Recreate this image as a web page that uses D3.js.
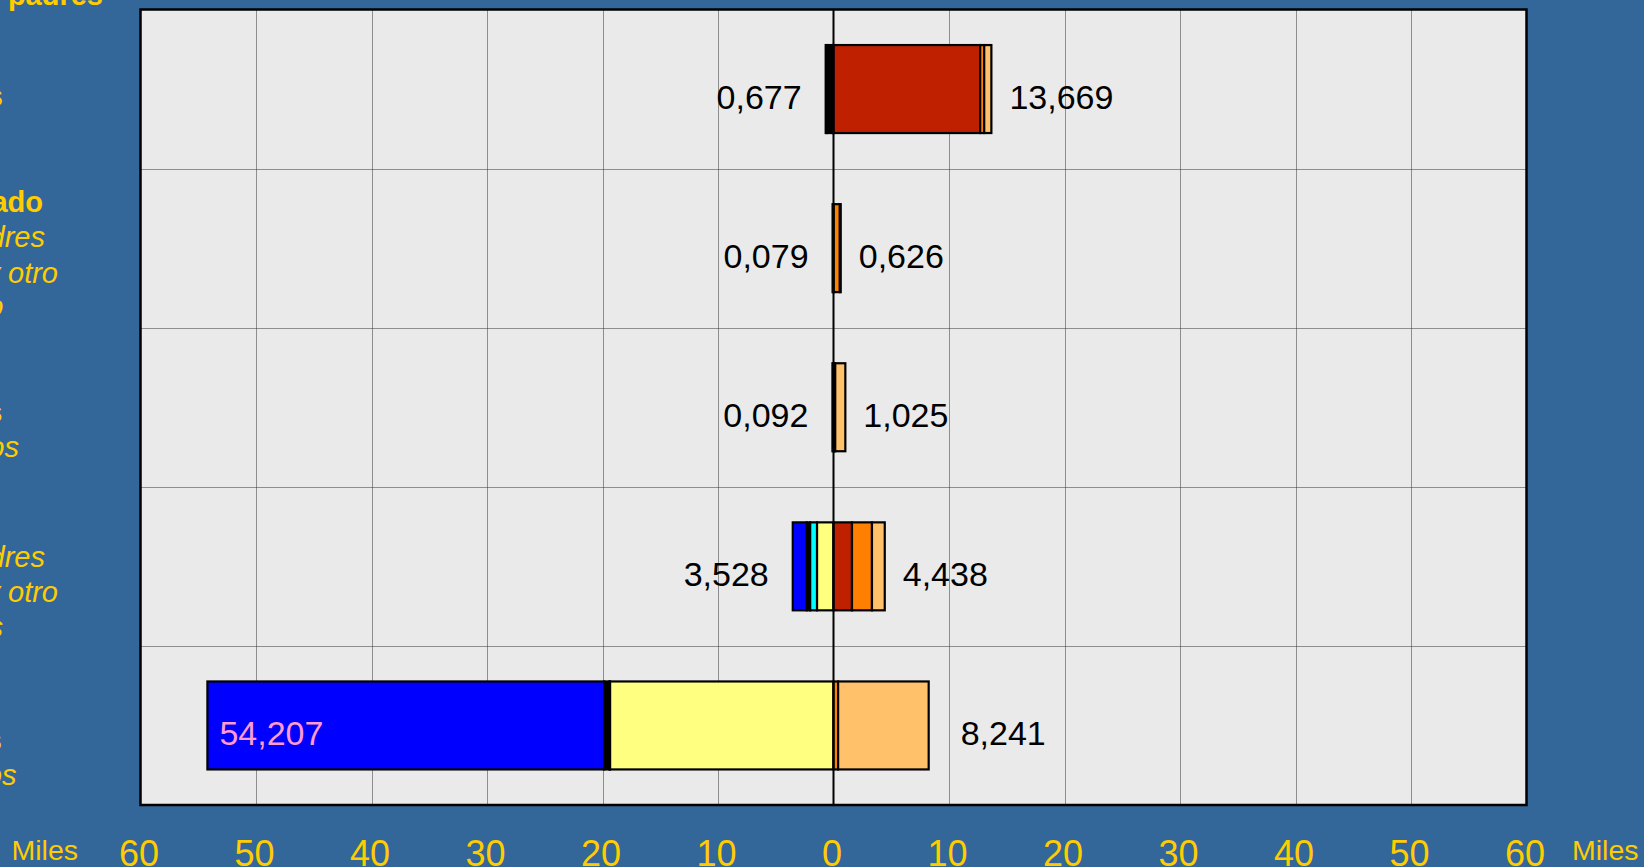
<!DOCTYPE html>
<html>
<head>
<meta charset="utf-8">
<script src="https://cdn.jsdelivr.net/npm/d3@7/dist/d3.min.js"></script>
<style>
  html, body { margin: 0; padding: 0; background: #336699; }
  svg { display: block; }
  text { font-family: "Liberation Sans", Arial, sans-serif; }
</style>
</head>
<body>
<svg id="chart" width="1644" height="867"></svg>
<script>
// ---------- DATA ----------
const categories = [
  "Viven con sus padres",
  "Casado con padres y otro núcleo",
  "Solteros sin hijos",
  "Pareja con padres y otro núcleos",
  "Casados con hijos"
];
const categoryLines = [
  ["Viven con sus padres", "Solteros"],
  ["Casado", "con padres", "y otro", "núcleo"],
  ["Solteros", "sin hijos"],
  ["con padres", "y otro", "núcleos"],
  ["Casados", "con hijos"]
];
// left side (drawn outward from zero), thousands
const leftYellow = [0.027, 0.000, 0.092, 1.430, 19.350];
const leftCyan   = [0.050, 0.079, 0.000, 0.600, 0.050];
const leftBlack  = [0.500, 0.000, 0.000, 0.290, 0.450];
const leftBlue   = [0.100, 0.000, 0.000, 1.208, 34.357];
// right side (drawn outward from zero), thousands
const rightRed         = [12.700, 0.020, 0.050, 1.600, 0.000];
const rightOrange      = [0.350, 0.530, 0.100, 1.730, 0.400];
const rightLightOrange = [0.619, 0.076, 0.875, 1.108, 7.841];

const tickValues = [-60, -50, -40, -30, -20, -10, 0, 10, 20, 30, 40, 50, 60];
const axisUnit = "Miles";

// ---------- STYLE / LAYOUT ----------
const leftSeries = [
  {values: leftYellow, color: "#FFFF80"},
  {values: leftCyan,   color: "#00FFFF"},
  {values: leftBlack,  color: "#000000"},
  {values: leftBlue,   color: "#0000FF"}
];
const rightSeries = [
  {values: rightRed,         color: "#BF2000"},
  {values: rightOrange,      color: "#FF8000"},
  {values: rightLightOrange, color: "#FFC169"}
];
const labelLayout = [
  [{x:103, y:5, b:1}, {x:3, y:106, b:1}],
  [{x:43, y:212, b:1}, {x:45, y:247, i:1}, {x:58, y:283, i:1}, {x:3.5, y:316, i:1}],
  [{x:2.5, y:422, b:1}, {x:19, y:457, i:1}],
  [{x:45, y:567, i:1}, {x:58, y:602, i:1}, {x:3, y:637, i:1}],
  [{x:2, y:750, b:1}, {x:16.5, y:785, i:1}]
];

const yellowText = "#FFCC00";
const plot = {left: 140.5, right: 1526.5, top: 9.5, bottom: 805};

const svg = d3.select("#chart");

const x = d3.scaleLinear().domain([-60, 60]).range([plot.left, plot.right]);
const pad = 0.447;
const y = d3.scaleBand().domain(d3.range(categories.length))
  .range([plot.top, plot.bottom]).paddingInner(pad).paddingOuter(pad / 2);

// plot background
svg.append("rect")
  .attr("x", plot.left).attr("y", plot.top)
  .attr("width", plot.right - plot.left).attr("height", plot.bottom - plot.top)
  .attr("fill", "#EAEAEA");

// vertical gridlines
svg.append("g").selectAll("line")
  .data(tickValues.filter(v => v !== 0 && Math.abs(v) !== 60))
  .join("line")
  .attr("x1", d => Math.round(x(d)) + 0.5).attr("x2", d => Math.round(x(d)) + 0.5)
  .attr("y1", plot.top).attr("y2", plot.bottom)
  .attr("stroke", "#333").attr("stroke-width", 1)
  .attr("stroke-dasharray", "1,1");

// horizontal separators
const step = y.step();
svg.append("g").selectAll("line")
  .data(d3.range(1, categories.length))
  .join("line")
  .attr("x1", plot.left).attr("x2", plot.right)
  .attr("y1", d => Math.round(plot.top + d * step) + 0.5)
  .attr("y2", d => Math.round(plot.top + d * step) + 0.5)
  .attr("stroke", "#333").attr("stroke-width", 1)
  .attr("stroke-dasharray", "1,1");

// stacked segments
function buildSegments(series, sign) {
  const segs = [];
  categories.forEach((c, i) => {
    let acc = 0;
    series.forEach(s => {
      const v = s.values[i];
      if (v > 0) {
        segs.push({i, x0: sign * acc, x1: sign * (acc + v), color: s.color});
      }
      acc += v;
    });
  });
  return segs;
}
const segs = buildSegments(leftSeries, -1).concat(buildSegments(rightSeries, 1));
svg.append("g").selectAll("rect")
  .data(segs)
  .join("rect")
  .attr("x", d => x(Math.min(d.x0, d.x1)))
  .attr("width", d => Math.abs(x(d.x1) - x(d.x0)))
  .attr("y", d => y(d.i))
  .attr("height", y.bandwidth())
  .attr("fill", d => d.color)
  .attr("stroke", "#000").attr("stroke-width", 2.2);

// zero line
svg.append("line")
  .attr("x1", x(0)).attr("x2", x(0))
  .attr("y1", plot.top).attr("y2", plot.bottom)
  .attr("stroke", "#000").attr("stroke-width", 2);

// plot frame
svg.append("rect")
  .attr("x", plot.left).attr("y", plot.top)
  .attr("width", plot.right - plot.left).attr("height", plot.bottom - plot.top)
  .attr("fill", "none").attr("stroke", "#000").attr("stroke-width", 2.5);

// value labels
const fmt = v => d3.format(".3f")(v).replace(".", ",");
const leftTotals = categories.map((c, i) => d3.sum(leftSeries, s => s.values[i]));
const rightTotals = categories.map((c, i) => d3.sum(rightSeries, s => s.values[i]));
const labelSize = 34;
const maxLeft = d3.max(leftTotals);
svg.append("g").selectAll("text")
  .data(leftTotals)
  .join("text")
  .attr("x", (d) => d === maxLeft ? x(-d) + 12 : x(-d) - 24)
  .attr("y", (d, i) => y(i) + y.bandwidth() / 2 + 7.5 + labelSize * 0.36)
  .attr("text-anchor", d => d === maxLeft ? "start" : "end")
  .attr("font-size", labelSize)
  .attr("fill", d => d === maxLeft ? "#FF99CC" : "#000")
  .text(d => fmt(d));
svg.append("g").selectAll("text")
  .data(rightTotals)
  .join("text")
  .attr("x", (d, i) => x(d) + (i === categories.length - 1 ? 32 : 18))
  .attr("y", (d, i) => y(i) + y.bandwidth() / 2 + 7.5 + labelSize * 0.36)
  .attr("text-anchor", "start")
  .attr("font-size", labelSize)
  .attr("fill", "#000")
  .text(d => fmt(d));

// x axis tick labels
svg.append("g").selectAll("text")
  .data(tickValues)
  .join("text")
  .attr("x", d => x(d) - 1.5)
  .attr("y", 866)
  .attr("text-anchor", "middle")
  .attr("font-size", 36)
  .attr("fill", yellowText)
  .text(d => Math.abs(d));

// unit labels
svg.append("text").attr("x", 11.5).attr("y", 860)
  .attr("font-size", 28.5).attr("fill", yellowText).text(axisUnit);
svg.append("text").attr("x", 1572).attr("y", 860)
  .attr("font-size", 28.5).attr("fill", yellowText).text(axisUnit);

// category labels (cut off by the left edge)
const catG = svg.append("g");
categoryLines.forEach((lines, ci) => {
  lines.forEach((t, li) => {
    const L = labelLayout[ci][li];
    catG.append("text")
      .attr("x", L.x).attr("y", L.y)
      .attr("text-anchor", "end")
      .attr("font-size", 29)
      .attr("font-weight", L.b ? "bold" : "normal")
      .attr("font-style", L.i ? "italic" : "normal")
      .attr("fill", yellowText)
      .text(t);
  });
});
</script>
</body>
</html>
